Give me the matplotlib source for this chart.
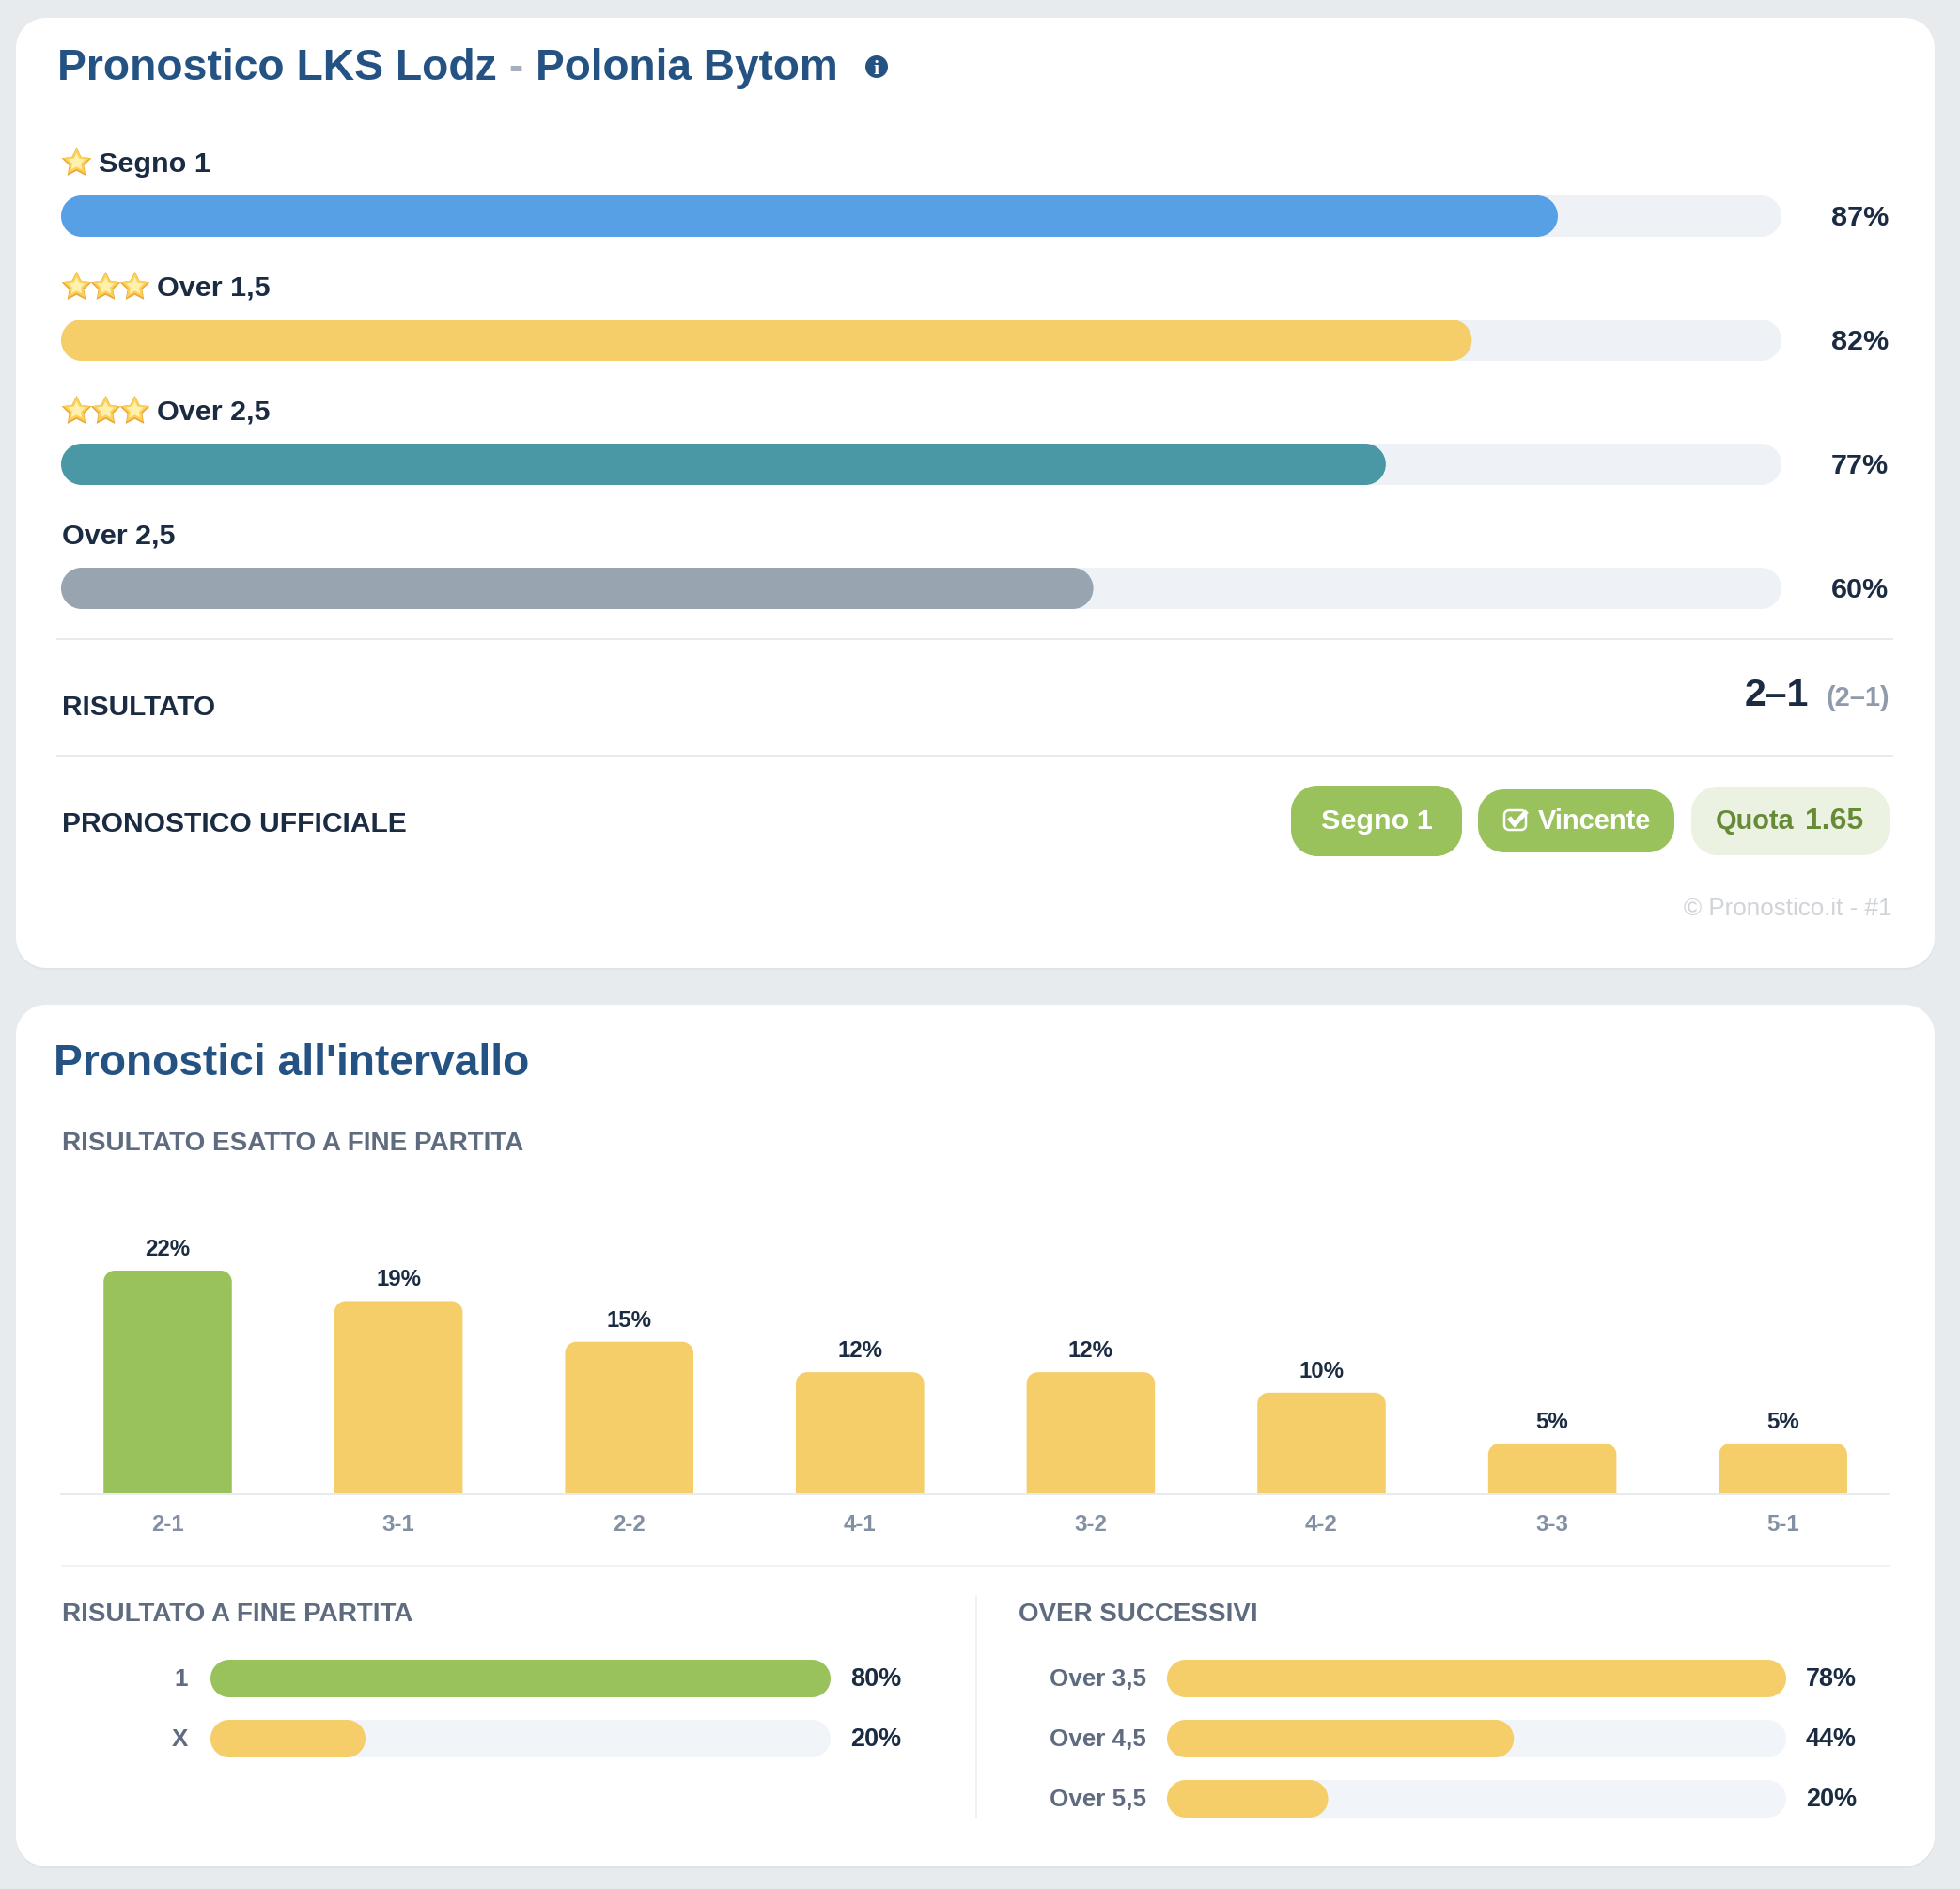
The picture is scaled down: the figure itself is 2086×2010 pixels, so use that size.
import matplotlib
matplotlib.use('Agg')
import matplotlib.pyplot as plt
from matplotlib.patches import Circle, PathPatch
from matplotlib.path import Path

W, H = 2086, 2010

# Valori
main_labels = ['Segno 1', 'Over 1,5', 'Over 2,5', 'Over 2,5']
main_values = [87, 82, 77, 60]
main_stars = [1, 3, 3, 0]
main_colors = ['#58a0e5', '#f6ce69', '#4a98a6', '#98a4b0']

score_labels = ['2-1', '3-1', '2-2', '4-1', '3-2', '4-2', '3-3', '5-1']
score_values = [22, 19, 15, 12, 12, 10, 5, 5]
score_colors = ['#9ac25c'] + ['#f6ce69'] * 7

final_labels = ['1', 'X']
final_values = [80, 20]
final_colors = ['#9ac25c', '#f6ce69']

over_labels = ['Over 3,5', 'Over 4,5', 'Over 5,5']
over_values = [78, 43.7, 20.3]

NAVY = '#245282'
DARK = '#1a2b42'
SLATE = '#5f6b7f'
GREEN = '#9ac25c'

plt.rcParams['font.family'] = ['Liberation Sans', 'DejaVu Sans']

fig = plt.figure(figsize=(W / 100, H / 100), dpi=100, facecolor='#e7ebee')

# Fondo in coordinate pixel per card, testi e separatori
bg = fig.add_axes([0, 0, 1, 1])
bg.set_xlim(0, W)
bg.set_ylim(H, 0)
bg.set_axis_off()


def px(size):
    return size * 0.72


def label(x, y, s, size, color=DARK, weight='bold', ha='left', ax=bg):
    return ax.text(x, y, s, fontsize=px(size), color=color, fontweight=weight,
                   ha=ha, va='baseline', zorder=5)


def rounded(x0, y0, x1, y1, rx, ry):
    # rettangolo con angoli circolari veri (curve di Bezier cubiche)
    k = 0.4477
    verts = [(x0 + rx, y0), (x1 - rx, y0),
             (x1 - k * rx, y0), (x1, y0 + k * ry), (x1, y0 + ry),
             (x1, y1 - ry),
             (x1, y1 - k * ry), (x1 - k * rx, y1), (x1 - rx, y1),
             (x0 + rx, y1),
             (x0 + k * rx, y1), (x0, y1 - k * ry), (x0, y1 - ry),
             (x0, y0 + ry),
             (x0, y0 + k * ry), (x0 + k * rx, y0), (x0 + rx, y0)]
    codes = [Path.MOVETO, Path.LINETO,
             Path.CURVE4, Path.CURVE4, Path.CURVE4,
             Path.LINETO,
             Path.CURVE4, Path.CURVE4, Path.CURVE4,
             Path.LINETO,
             Path.CURVE4, Path.CURVE4, Path.CURVE4,
             Path.LINETO,
             Path.CURVE4, Path.CURVE4, Path.CURVE4]
    return Path(verts, codes)


def box(x0, y0, x1, y1, r, color, zorder=1):
    p = PathPatch(rounded(x0, y0, x1, y1, r, r), fc=color, ec='none', zorder=zorder)
    bg.add_patch(p)
    return p


def hline(y, x0, x1, color, lw=2):
    bg.plot([x0, x1], [y, y], color=color, lw=px(lw), solid_capstyle='butt', zorder=2)


def axes_px(x0, y0, x1, y1):
    return fig.add_axes([x0 / W, 1 - y1 / H, (x1 - x0) / W, (y1 - y0) / H], facecolor='none')


def round_bar(ax, x0, x1, y0, y1, r, color, zorder=2):
    # raggio in pixel, convertito nelle unita' di ciascun asse
    bb = ax.get_window_extent()
    rx = r * abs(ax.get_xlim()[1] - ax.get_xlim()[0]) / bb.width
    ry = r * abs(ax.get_ylim()[1] - ax.get_ylim()[0]) / bb.height
    ax.add_patch(PathPatch(rounded(x0, y0, x1, y1, rx, ry), fc=color, ec='none', zorder=zorder))


def hbars(x0, y0, x1, y1, pitch, h, r, values, colors, xmax, track):
    n = len(values)
    ax = axes_px(x0, y0, x1, y1)
    half = h / pitch / 2
    ax.set_xlim(0, xmax)
    ax.set_ylim(n - 1 + half, -half)
    ax.set_axis_off()
    for i, (v, c) in enumerate(zip(values, colors)):
        round_bar(ax, 0, xmax, i - half, i + half, r, track, zorder=1)
        round_bar(ax, 0, v, i - half, i + half, r, c, zorder=2)
    return ax


# Card
for top, bottom in [(19, 1030), (1069, 1986)]:
    box(17, top + 2, 2059, bottom + 2, 32, '#dfe3e7', zorder=0)
    box(17, top, 2059, bottom, 32, 'white', zorder=1)

# Titolo
label(61, 85, 'Pronostico LKS Lodz', 46.3, NAVY)
label(541, 85, '-', 46, '#a3afbc')
label(570, 85, 'Polonia Bytom', 46, NAVY)
bg.add_patch(Circle((933, 71), 12, fc=NAVY, ec='none', zorder=3))
bg.text(933, 79, 'i', fontsize=px(22), color='white', family='Liberation Serif',
        fontweight='bold', ha='center', va='baseline', zorder=4)

# Barre principali
star = Path.unit_regular_star(5, innerCircle=0.5)
hbars(65, 208, 1896, 648, 132, 44, 22, main_values, main_colors, 100, '#eef2f7')
for i, (name, v, n) in enumerate(zip(main_labels, main_values, main_stars)):
    base = 182.5 + 132 * i
    for k in range(n):
        # stella a livelli: arancio fuori, giallo chiaro al centro
        sx, sy = 81 + 31 * k, base - 10
        bg.plot(sx, sy, marker=star, ms=24, mfc='#eda83c', mew=0, zorder=3)
        bg.plot(sx, sy - 1, marker=star, ms=21, mfc='#fbd257', mew=0, zorder=3)
        bg.plot(sx, sy - 1, marker=star, ms=14, mfc='#fff0ad', mew=0, zorder=4)
    label(105 if n == 1 else 167 if n == 3 else 66, base, name, 30.5)
    label(2010, base + 57.5, f'{v}%', 30.5, ha='right')

hline(680, 60, 2015, '#e6ebf0')
hline(804, 60, 2015, '#e6ebf0')

label(66, 761, 'RISULTATO', 29.7)
label(1925, 751, '2–1', 41, ha='right')
label(2011, 751, '(2–1)', 29, '#8f9bad', ha='right')

label(66, 885, 'PRONOSTICO UFFICIALE', 30)
box(1374, 836, 1556, 911, 28, GREEN, zorder=2)
box(1573, 840, 1782, 907, 28, GREEN, zorder=2)
box(1800, 837, 2011, 910, 28, '#ebf2e2', zorder=2)
label(1465, 882, 'Segno 1', 30.5, 'white', ha='center')
label(1637, 882, 'Vincente', 29, 'white')
label(1826, 882, 'Quota', 29, '#668a35')
label(1921, 882, '1.65', 32, '#668a35')

# Icona check della pillola
box(1601, 862, 1624, 883, 5, 'none', zorder=3).set(ec='white', lw=px(2.5))
bg.add_patch(PathPatch(Path([(1606, 870), (1612, 877), (1625, 863)]), fc='none', ec='white',
                       lw=px(5), zorder=4))

label(2013, 974, '© Pronostico.it - #1', 26, '#d0d3d8', weight='normal', ha='right')

# Seconda card
label(57, 1144, "Pronostici all'intervallo", 46.2, NAVY)
label(66, 1224, 'RISULTATO ESATTO A FINE PARTITA', 27.9, SLATE)

# Istogramma risultati esatti
ax = axes_px(65, 1300, 2011, 1590)
step = 245.6
ax.set_xlim((65 - 178.5) / step, (2011 - 178.5) / step)
ax.set_ylim(0, 290 / 10.82)
for i, (v, c) in enumerate(zip(score_values, score_colors)):
    round_bar(ax, i - 0.278, i + 0.278, -2, v, 12, c)
    ax.annotate(f'{v}%', (i, v), xytext=(0, 16), textcoords='offset pixels', ha='center',
                va='baseline', fontsize=px(24), fontweight='bold', color=DARK)
ax.set_xticks(range(len(score_labels)))
ax.set_xticklabels(score_labels, fontsize=px(24), fontweight='bold', color='#8390a3')
ax.set_yticks([])
ax.tick_params(axis='x', length=0, pad=15)
for side in ['top', 'left', 'right']:
    ax.spines[side].set_visible(False)
ax.spines['bottom'].set_color('#e6ebf0')
ax.spines['bottom'].set_linewidth(px(2))

hline(1666, 65, 2011, '#f0f3f7')

# Blocchi inferiori
label(66, 1725, 'RISULTATO A FINE PARTITA', 27.9, SLATE)
label(1084, 1725, 'OVER SUCCESSIVI', 27.8, SLATE)
bg.plot([1039, 1039], [1698, 1933], color='#eef1f5', lw=px(2), zorder=2)

hbars(224, 1766, 884, 1870, 64, 40, 20, final_values, final_colors, max(final_values), '#f1f4f8')
for i, (name, v) in enumerate(zip(final_labels, final_values)):
    label(200, 1794 + 64 * i, name, 26, SLATE, ha='right')
    label(905, 1794 + 64 * i, f'{v}%', 27)

hbars(1242, 1766, 1901, 1934, 64, 40, 20, over_values, ['#f6ce69'] * 3, max(over_values), '#f1f4f8')
for i, (name, v) in enumerate(zip(over_labels, over_values)):
    label(1220, 1794 + 64 * i, name, 26, SLATE, ha='right')
    label(1922, 1794 + 64 * i, f'{v:.0f}%', 27)

fig.savefig('out.png', dpi=100, facecolor=fig.get_facecolor())
